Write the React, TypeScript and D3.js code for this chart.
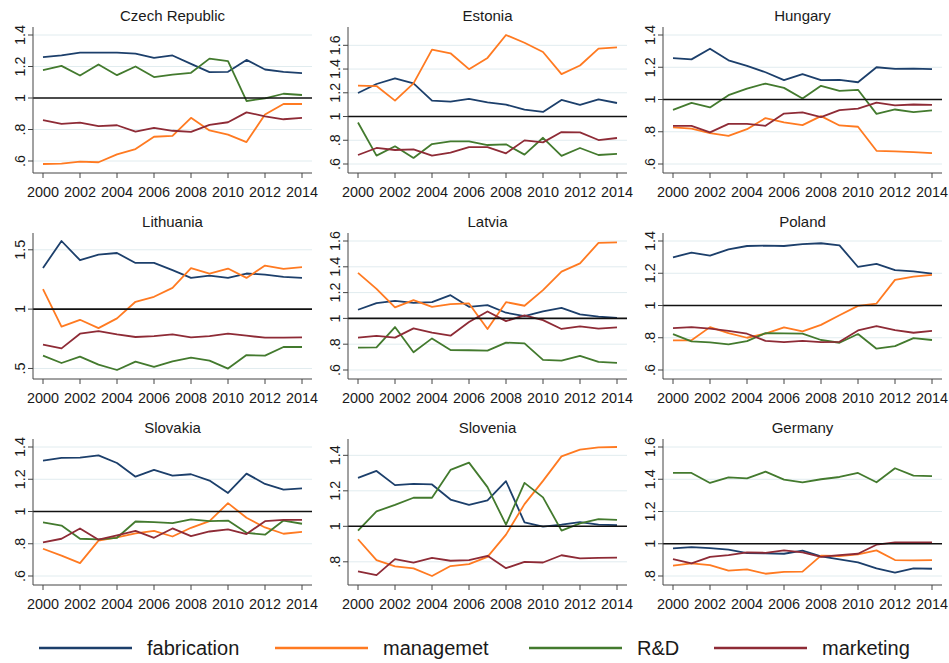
import React from 'react';
import * as d3 from 'd3';

// years and x-axis ticks
const years = [2000, 2001, 2002, 2003, 2004, 2005, 2006, 2007, 2008, 2009, 2010, 2011, 2012, 2013, 2014];
const yearTicks = [2000, 2002, 2004, 2006, 2008, 2010, 2012, 2014];

const seriesNames = ['fabrication', 'managemet', 'R&D', 'marketing'];
const seriesColors = ['#1c3f6b', '#ff7a21', '#437a2e', '#8e2b36'];

// Czech Republic
const czechFab = [1.259, 1.27, 1.288, 1.288, 1.288, 1.282, 1.255, 1.27, 1.217, 1.164, 1.166, 1.242, 1.181, 1.166, 1.158];
const czechMan = [0.581, 0.583, 0.596, 0.592, 0.642, 0.676, 0.754, 0.76, 0.874, 0.794, 0.768, 0.72, 0.895, 0.962, 0.962];
const czechRD = [1.177, 1.204, 1.143, 1.213, 1.145, 1.2, 1.133, 1.149, 1.16, 1.25, 1.234, 0.981, 0.998, 1.027, 1.019];
const czechMkt = [0.859, 0.836, 0.844, 0.821, 0.827, 0.787, 0.811, 0.792, 0.785, 0.829, 0.846, 0.909, 0.884, 0.865, 0.874];
const czechTicks = [0.6, 0.8, 1, 1.2, 1.4];

// Estonia
const estoniaFab = [1.198, 1.274, 1.321, 1.279, 1.134, 1.126, 1.148, 1.12, 1.1, 1.059, 1.039, 1.14, 1.098, 1.145, 1.114];
const estoniaMan = [1.26, 1.257, 1.134, 1.279, 1.564, 1.533, 1.399, 1.494, 1.687, 1.622, 1.544, 1.357, 1.43, 1.572, 1.583];
const estoniaRD = [0.95, 0.671, 0.749, 0.651, 0.768, 0.791, 0.791, 0.76, 0.766, 0.679, 0.821, 0.668, 0.735, 0.676, 0.685];
const estoniaMkt = [0.676, 0.735, 0.718, 0.724, 0.671, 0.696, 0.743, 0.743, 0.69, 0.799, 0.782, 0.869, 0.866, 0.802, 0.819];
const estoniaTicks = [0.6, 0.8, 1, 1.2, 1.4, 1.6];

// Hungary
const hungaryFab = [1.256, 1.249, 1.315, 1.243, 1.208, 1.169, 1.12, 1.157, 1.12, 1.122, 1.107, 1.2, 1.19, 1.192, 1.188];
const hungaryMan = [0.827, 0.819, 0.792, 0.775, 0.816, 0.885, 0.858, 0.841, 0.897, 0.839, 0.831, 0.682, 0.678, 0.674, 0.668];
const hungaryRD = [0.936, 0.979, 0.951, 1.027, 1.068, 1.099, 1.072, 1.006, 1.085, 1.054, 1.06, 0.911, 0.938, 0.922, 0.932];
const hungaryMkt = [0.837, 0.837, 0.796, 0.849, 0.849, 0.837, 0.913, 0.92, 0.891, 0.934, 0.944, 0.981, 0.963, 0.969, 0.967];
const hungaryTicks = [0.6, 0.8, 1, 1.2, 1.4];

// Lithuania
const lithuaniaFab = [1.347, 1.574, 1.412, 1.459, 1.473, 1.389, 1.389, 1.328, 1.263, 1.283, 1.263, 1.3, 1.291, 1.272, 1.263];
const lithuaniaMan = [1.168, 0.852, 0.91, 0.84, 0.922, 1.062, 1.104, 1.179, 1.345, 1.3, 1.342, 1.263, 1.367, 1.339, 1.353];
const lithuaniaRD = [0.608, 0.546, 0.6, 0.532, 0.487, 0.557, 0.513, 0.56, 0.591, 0.566, 0.499, 0.613, 0.608, 0.681, 0.681];
const lithuaniaMkt = [0.7, 0.669, 0.793, 0.815, 0.787, 0.765, 0.773, 0.787, 0.762, 0.773, 0.793, 0.776, 0.759, 0.759, 0.762];
const lithuaniaTicks = [0.5, 1, 1.5];

// Latvia
const latviaFab = [1.067, 1.118, 1.136, 1.121, 1.126, 1.18, 1.09, 1.103, 1.044, 1.018, 1.054, 1.082, 1.031, 1.013, 1.003];
const latviaMan = [1.353, 1.229, 1.085, 1.142, 1.09, 1.111, 1.116, 0.918, 1.126, 1.098, 1.219, 1.363, 1.427, 1.585, 1.59];
const latviaRD = [0.773, 0.776, 0.933, 0.737, 0.845, 0.755, 0.753, 0.75, 0.812, 0.807, 0.678, 0.673, 0.709, 0.663, 0.655];
const latviaMkt = [0.851, 0.864, 0.851, 0.923, 0.889, 0.866, 0.972, 1.054, 0.979, 1.023, 0.987, 0.918, 0.938, 0.92, 0.93];
const latviaTicks = [0.6, 0.8, 1, 1.2, 1.4, 1.6];

// Poland
const polandFab = [1.299, 1.328, 1.309, 1.348, 1.369, 1.371, 1.369, 1.381, 1.386, 1.373, 1.239, 1.258, 1.219, 1.212, 1.198];
const polandMan = [0.784, 0.784, 0.866, 0.829, 0.8, 0.825, 0.864, 0.839, 0.88, 0.94, 0.998, 1.012, 1.159, 1.179, 1.19];
const polandRD = [0.823, 0.777, 0.771, 0.759, 0.779, 0.829, 0.827, 0.825, 0.786, 0.769, 0.823, 0.732, 0.748, 0.798, 0.786];
const polandMkt = [0.86, 0.866, 0.856, 0.843, 0.825, 0.781, 0.773, 0.781, 0.773, 0.775, 0.845, 0.872, 0.847, 0.831, 0.843];
const polandTicks = [0.6, 0.8, 1, 1.2, 1.4];

// Slovakia
const slovakiaFab = [1.315, 1.332, 1.334, 1.348, 1.301, 1.216, 1.258, 1.223, 1.231, 1.192, 1.115, 1.235, 1.171, 1.136, 1.144];
const slovakiaMan = [0.769, 0.726, 0.68, 0.819, 0.839, 0.864, 0.88, 0.845, 0.899, 0.94, 1.052, 0.961, 0.901, 0.862, 0.874];
const slovakiaRD = [0.932, 0.913, 0.831, 0.827, 0.837, 0.938, 0.934, 0.928, 0.951, 0.94, 0.944, 0.868, 0.856, 0.944, 0.924];
const slovakiaMkt = [0.808, 0.831, 0.895, 0.825, 0.852, 0.88, 0.837, 0.895, 0.847, 0.876, 0.889, 0.86, 0.94, 0.948, 0.948];
const slovakiaTicks = [0.6, 0.8, 1, 1.2, 1.4];

// Slovenia
const sloveniaFab = [1.273, 1.312, 1.232, 1.239, 1.236, 1.151, 1.121, 1.146, 1.254, 1.022, 0.998, 1.009, 1.024, 1.009, 1.007];
const sloveniaMan = [0.927, 0.809, 0.774, 0.763, 0.72, 0.776, 0.787, 0.828, 0.953, 1.125, 1.256, 1.394, 1.432, 1.445, 1.447];
const sloveniaRD = [0.976, 1.084, 1.121, 1.161, 1.161, 1.318, 1.359, 1.221, 1.009, 1.245, 1.163, 0.976, 1.017, 1.041, 1.036];
const sloveniaMkt = [0.746, 0.725, 0.815, 0.796, 0.822, 0.806, 0.809, 0.834, 0.764, 0.8, 0.796, 0.837, 0.819, 0.822, 0.824];
const sloveniaTicks = [0.8, 1, 1.2, 1.4];

// Germany
const germanyFab = [0.971, 0.979, 0.973, 0.963, 0.942, 0.94, 0.938, 0.957, 0.922, 0.903, 0.885, 0.847, 0.821, 0.847, 0.845];
const germanyMan = [0.864, 0.878, 0.868, 0.833, 0.841, 0.814, 0.825, 0.827, 0.926, 0.924, 0.934, 0.959, 0.899, 0.897, 0.899];
const germanyRD = [1.439, 1.439, 1.377, 1.412, 1.406, 1.447, 1.398, 1.381, 1.4, 1.414, 1.439, 1.381, 1.468, 1.423, 1.419];
const germanyMkt = [0.905, 0.878, 0.918, 0.93, 0.946, 0.944, 0.959, 0.946, 0.918, 0.93, 0.938, 0.994, 1.008, 1.008, 1.008];
const germanyTicks = [0.8, 1, 1.2, 1.4, 1.6];

const panels = [
  { name: 'Czech Republic', series: [czechFab, czechMan, czechRD, czechMkt], ticks: czechTicks },
  { name: 'Estonia', series: [estoniaFab, estoniaMan, estoniaRD, estoniaMkt], ticks: estoniaTicks },
  { name: 'Hungary', series: [hungaryFab, hungaryMan, hungaryRD, hungaryMkt], ticks: hungaryTicks },
  { name: 'Lithuania', series: [lithuaniaFab, lithuaniaMan, lithuaniaRD, lithuaniaMkt], ticks: lithuaniaTicks },
  { name: 'Latvia', series: [latviaFab, latviaMan, latviaRD, latviaMkt], ticks: latviaTicks },
  { name: 'Poland', series: [polandFab, polandMan, polandRD, polandMkt], ticks: polandTicks },
  { name: 'Slovakia', series: [slovakiaFab, slovakiaMan, slovakiaRD, slovakiaMkt], ticks: slovakiaTicks },
  { name: 'Slovenia', series: [sloveniaFab, sloveniaMan, sloveniaRD, sloveniaMkt], ticks: sloveniaTicks },
  { name: 'Germany', series: [germanyFab, germanyMan, germanyRD, germanyMkt], ticks: germanyTicks },
];

const WIDTH = 949;
const HEIGHT = 663;
const FONT = '"Liberation Sans", Arial, Helvetica, sans-serif';
const colX = [0, 315, 630];
const rowY = [0, 206, 412];

// panel-local geometry
const axisX = 33;
const rightX = 312;
const plotTop = 27;
const plotBottom = 173;
const innerTop = 35;
const innerBottom = 164;

// Stata-style labels: ".6", "1", "1.2"
const fmtTick = (v: number) => {
  const s = String(Math.round(v * 10) / 10);
  return s.startsWith('0.') ? s.slice(1) : s;
};

function Panel({ p, idx }: { p: any; idx: number }) {
  const tx = colX[idx % 3];
  const ty = rowY[Math.floor(idx / 3)];
  const x = d3.scaleLinear().domain([2000, 2014]).range([43, 302]);
  const ext = d3.extent([...p.series.flat(), ...p.ticks]) as [number, number];
  const y = d3.scaleLinear().domain(ext).range([innerBottom, innerTop]);
  const line = d3.line<number>().x((_, i) => x(years[i])).y(d => y(d));

  return (
    <g transform={`translate(${tx},${ty})`}>
      <text x={(axisX + rightX) / 2} y={20.5} textAnchor="middle" fontSize={15} fill="#1a1a1a">{p.name}</text>
      {p.ticks.filter((t: number) => t !== 1).map((t: number) => (
        <line key={'g' + t} x1={axisX} x2={rightX} y1={y(t)} y2={y(t)} stroke="#e1ecef" strokeWidth={1} />
      ))}
      {p.series.map((s: number[], i: number) => (
        <path key={i} d={line(s) || ''} fill="none" stroke={seriesColors[i]} strokeWidth={1.8} strokeLinejoin="round" />
      ))}
      <line x1={axisX} x2={rightX} y1={y(1)} y2={y(1)} stroke="#111" strokeWidth={1.6} />
      {/* y axis */}
      <line x1={axisX} x2={axisX} y1={plotTop} y2={plotBottom} stroke="#444" strokeWidth={1} />
      {p.ticks.map((t: number) => (
        <g key={'y' + t}>
          <line x1={axisX - 5} x2={axisX} y1={y(t)} y2={y(t)} stroke="#444" strokeWidth={1} />
          <text transform={`translate(${axisX - 8},${y(t)}) rotate(-90)`} textAnchor="middle" fontSize={14.4} fill="#1a1a1a">{fmtTick(t)}</text>
        </g>
      ))}
      {/* x axis */}
      <line x1={axisX} x2={rightX} y1={plotBottom} y2={plotBottom} stroke="#444" strokeWidth={1} />
      {yearTicks.map(t => (
        <g key={'x' + t}>
          <line x1={x(t)} x2={x(t)} y1={plotBottom} y2={plotBottom + 5} stroke="#444" strokeWidth={1} />
          <text x={x(t)} y={197} textAnchor="middle" fontSize={14.4} fill="#1a1a1a">{t}</text>
        </g>
      ))}
    </g>
  );
}

const legendX = [39, 275, 529, 714];

export default function App() {
  return (
    <svg width={WIDTH} height={HEIGHT} style={{ position: 'absolute', left: 0, top: 0, background: '#fff' }} fontFamily={FONT}>
      <rect width={WIDTH} height={HEIGHT} fill="#fff" />
      {panels.map((p, i) => <Panel key={p.name} p={p} idx={i} />)}
      {seriesNames.map((n, i) => (
        <g key={n} transform={`translate(${legendX[i]},648)`}>
          <line x1={0} x2={93} y1={0} y2={0} stroke={seriesColors[i]} strokeWidth={2.5} />
          <text x={108} y={7} fontSize={20} fill="#1a1a1a">{n}</text>
        </g>
      ))}
    </svg>
  );
}
